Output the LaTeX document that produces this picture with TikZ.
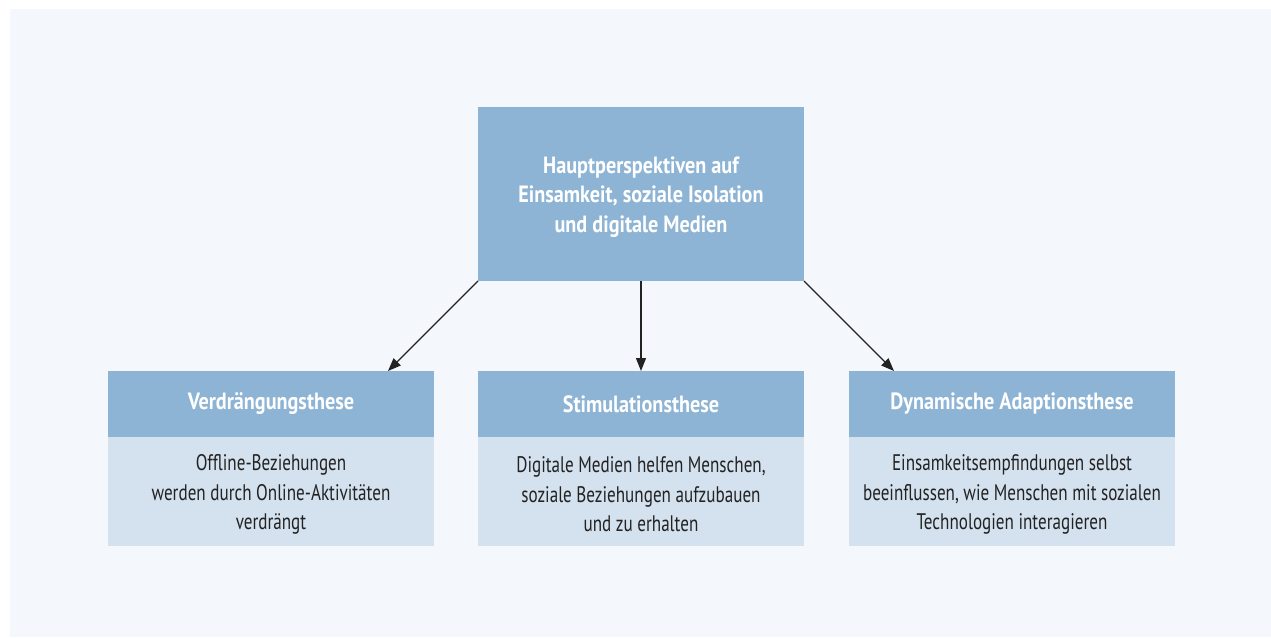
\documentclass[tikz,border=0pt]{standalone}
\usepackage{fontspec}
\setmainfont[FakeStretch=0.76, BoldFeatures={FakeStretch=0.86}]{PT Sans}
\usetikzlibrary{arrows.meta,calc}
\definecolor{bgc}{HTML}{F4F8FC}
\definecolor{hdr}{HTML}{8DB4D4}
\definecolor{bdy}{HTML}{D4E1EE}
\definecolor{txt}{HTML}{222222}
\tikzset{
  boxbase/.style={inner sep=0pt, outer sep=0pt, minimum width=326pt, align=center, font=\fontsize{22.5}{29.5}\selectfont},
  topbox/.style={boxbase, fill=hdr, minimum height=174pt, text=white, font=\fontsize{23.5}{29.5}\selectfont\bfseries},
  hdrbox/.style={boxbase, fill=hdr, minimum height=66pt, text=white, font=\fontsize{23.5}{29.5}\selectfont\bfseries},
  bodybox/.style={boxbase, fill=bdy, minimum height=109pt, text=txt},
  conn/.style={draw=txt, line width=1.2pt, -{Triangle[length=13pt,width=10pt]}}
}
\begin{document}
\begin{tikzpicture}[x=1pt,y=-1pt]
\useasboundingbox (0,0) rectangle (1271,637);
\fill[white] (0,0) rectangle (1271,637);
\fill[bgc] (10,9) rectangle (1271,637);
\node[topbox] (top) at (641,194) {};
\node[text=white, font=\fontsize{23.5}{29.5}\selectfont\bfseries, align=center] (toptext) at (641,197) {Hauptperspektiven auf\\Einsamkeit, soziale Isolation\\und digitale Medien};
\node[hdrbox] (h1) at (271,404) {Verdrängungsthese};
\node[hdrbox] (h2) at (641,404) {Stimulationsthese};
\node[hdrbox] (h3) at (1012,404) {Dynamische Adaptionsthese};
\node[bodybox] (b1) at (271,491.5) {};
\node[bodybox] (b2) at (641,491.5) {};
\node[bodybox] (b3) at (1012,491.5) {};
\tikzset{bodytext/.style={text=txt, font=\fontsize{22.5}{29.5}\selectfont, align=center}}
\node[bodytext] (t1) at ($(b1)+(0,3)$) {Offline-Beziehungen\\werden durch Online-Aktivitäten\\verdrängt};
\node[bodytext] (t2) at ($(b2)+(0,3)$) {Digitale Medien helfen Menschen,\\soziale Beziehungen aufzubauen\\und zu erhalten};
\node[bodytext] (t3) at ($(b3)+(0,3)$) {Einsamkeitsempfindungen selbst\\beeinflussen, wie Menschen mit sozialen\\Technologien interagieren};
\draw[conn] (top.south west) -- ($(h1.north east)+(-46,0)$);
\draw[conn] (top.south) -- (h2.north);
\draw[conn] (top.south east) -- ($(h3.north west)+(45,0)$);
\end{tikzpicture}
\end{document}
